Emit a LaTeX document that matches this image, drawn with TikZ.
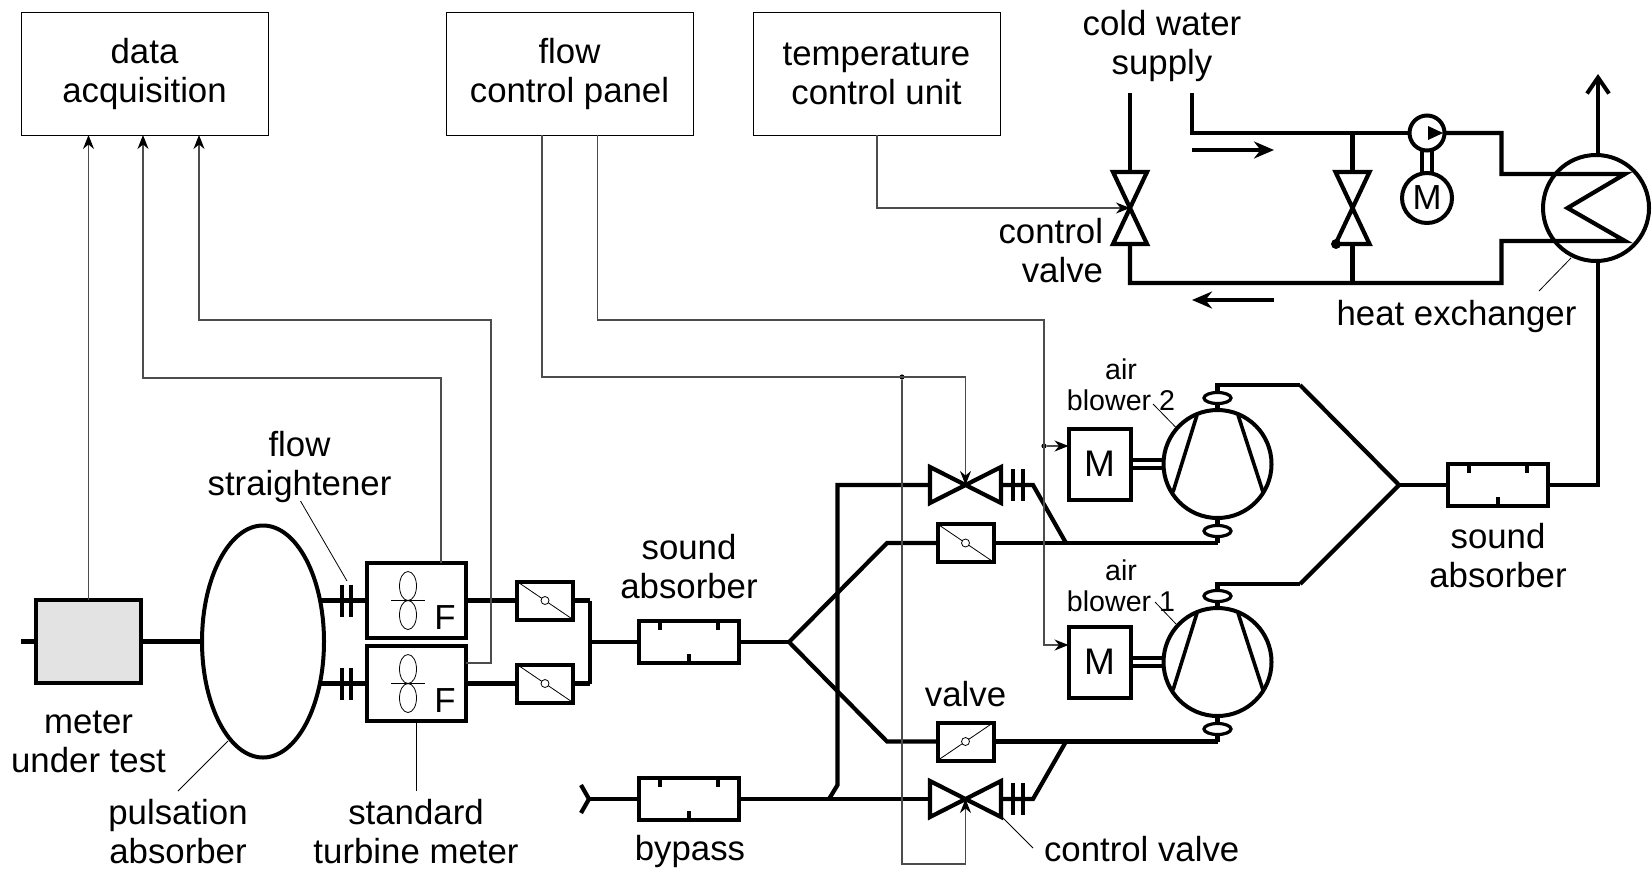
\documentclass[tikz,border=0pt]{standalone}
\usepackage{fontspec}
\setmainfont{Liberation Sans}
\usepackage{tikz}
\usetikzlibrary{
  shapes.geometric,
  arrows.meta,
  calc
}
\tikzset{
  every node/.style = {inner sep=0pt, outer sep=0pt},
  pipe/.style       = {line width=2.1pt},
  sigline/.style    = {line width=0.6pt, black!70},
  sigarrow/.style   = {sigline, -{Stealth[length=7pt, width=5.5pt, black]}},
  leader/.style     = {line width=0.4pt},
  flowarrow/.style  = {line width=2pt, -{Stealth[length=10pt, width=8.5pt]}},
  label/.style      = {align=center, font=\fontsize{17.4}{19.5}\selectfont},
  smalllabel/.style = {align=center, font=\fontsize{14.3}{15.5}\selectfont},
  panel/.style      = {draw, line width=0.5pt, minimum width=123.5pt, minimum height=61.5pt, align=center,
                       font=\fontsize{17.4}{19.5}\selectfont},
  metersq/.style    = {draw, line width=2pt, fill=gray!22, minimum width=52.5pt, minimum height=41.5pt},
  fanbox/.style     = {draw, line width=2.2pt, minimum width=49.5pt, minimum height=37.5pt},
  flapbox/.style    = {draw, line width=2pt, minimum width=28pt, minimum height=19pt},
  absorb/.style     = {draw, line width=2pt, minimum width=50pt, minimum height=21pt},
  motorbox/.style   = {draw, line width=2pt, minimum width=31pt, minimum height=35.5pt,
                       font=\fontsize{18.5}{19.5}\selectfont},
  bowtie/.style     = {minimum width=35.5pt, minimum height=18pt},
  bowtieup/.style   = {minimum width=17pt, minimum height=36pt},
  blower/.style     = {draw, circle, line width=2pt, minimum size=54pt},
  hub/.style        = {draw, ellipse, line width=1.6pt, fill=white, minimum width=13.5pt, minimum height=5.5pt},
  lobe/.style       = {draw, ellipse, line width=0.4pt, minimum width=8.5pt, minimum height=14.5pt},
  flapdot/.style    = {draw, circle, line width=0.4pt, fill=white, minimum size=4pt},
  sigdot/.style     = {circle, fill=black, minimum size=2.6pt},
}

\begin{document}
\begin{tikzpicture}[x=0.5pt, y=-0.5pt]
    \useasboundingbox (0,0) rectangle (1652,868);

    % --- TOP: PANELS ---
    \node[panel] (daq) at (144.5, 73.5) {data\\acquisition};
    \node[panel] (fcp) at (569.5, 73.5) {flow\\control panel};
    \node[panel] (tcu) at (876.5, 73.5) {temperature\\control unit};

    % --- LEFT: METER AND ABSORBER ---
    \node[metersq] (mut) at (88.5, 641.5) {};
    \node[draw, ellipse, line width=2pt, minimum width=61pt, minimum height=116pt] (pulse) at (263, 641.5) {};
    \coordinate (inlet) at (21, 641.5);
    \draw[pipe] (inlet) -- (mut.west);
    \draw[pipe] (mut.east) -- (pulse.west);

    % Turbine meters
    \foreach \n/\y in {up/600.5, lo/683.5} {
        \node[fanbox] (fan\n) at (416.5, \y) {};
        \node[lobe] (lobea\n) at (408, \y-14.5) {};
        \node[lobe] (lobeb\n) at (408, \y+14.5) {};
        \draw[leader] (391, \y) -- (425, \y);
        \node[label] (ftxt\n) at (445, \y+17) {F};
        \node[flapbox] (flap\n) at (545, \y) {};
        \draw[leader] (flap\n.north west) -- (flap\n.south east);
        \node[flapdot] (fdot\n) at (flap\n) {};
        \coordinate (pulse\n) at (321, \y);
        \coordinate (join\n) at (590, \y);
        \draw[pipe] (pulse\n) -- (fan\n.west);
        \draw[pipe] (fan\n.east) -- (flap\n.west);
        \draw[pipe] (flap\n.east) -- (join\n);
        \draw[line width=2pt] (342, \y-16) -- (342, \y+16);
        \draw[line width=2pt] (350.5, \y-16) -- (350.5, \y+16);
    }
    \draw[pipe] (joinup) -- (joinlo);

    % --- CENTER: SOUND ABSORBER, BYPASS, FORK ---
    \node[absorb] (abmain) at (689, 642) {};
    \node[absorb] (abby) at (689, 799) {};
    \node[absorb] (about) at (1498, 485) {};
    \foreach \a in {abmain, abby, about} {
        \draw[line width=1.6pt] ($(\a.north)+(-29,0)$) -- ++(0,9);
        \draw[line width=1.6pt] ($(\a.north)+(29,0)$) -- ++(0,9);
        \draw[line width=1.6pt] (\a.south) -- ++(0,-9);
    }
    \coordinate (joinmid) at (590, 642);
    \coordinate (fork) at (789, 642);
    \coordinate (forkup) at (887, 543);
    \coordinate (forklo) at (887, 741.5);
    \draw[pipe] (joinmid) -- (abmain.west);
    \draw[pipe] (abmain.east) -- (fork);
    \node[flapbox] (flapa) at (965.5, 543) {};
    \node[flapbox] (flapb) at (965.5, 741.5) {};
    \draw[leader] (flapa.north west) -- (flapa.south east);
    \draw[leader] (flapb.south west) -- (flapb.north east);
    \node[flapdot] (fdota) at (flapa) {};
    \node[flapdot] (fdotb) at (flapb) {};
    \draw[pipe] (flapa.west) -- (forkup) -- (fork) -- (forklo) -- (flapb.west);

    % Bypass branch
    \coordinate (ytail) at (589, 799);
    \draw[pipe] (581, 785) -- (ytail) -- (581, 813);
    \draw[pipe] (ytail) -- (abby.west);
    \node[bowtie] (cva) at (965.5, 485) {};
    \node[bowtie] (cvb) at (965.5, 799) {};
    \foreach \v in {cva, cvb}
        \draw[pipe] (\v.north west) -- (\v.south east) -- (\v.north east) -- (\v.south west) -- cycle;
    \coordinate (tee) at (829, 799);
    \coordinate (teeup) at (837.5, 785);
    \coordinate (teetop) at (837.5, 485);
    \draw[pipe] (abby.east) -- (cvb.west);
    \draw[pipe] (tee) -- (teeup) -- (teetop) -- (cva.west);
    \foreach \y in {485, 799} {
        \draw[line width=2pt] (1012.5, \y-16) -- (1012.5, \y+16);
        \draw[line width=2pt] (1022.5, \y-16) -- (1022.5, \y+16);
    }
    \coordinate (cvaout) at (1033, 485);
    \coordinate (cvbout) at (1033, 799);
    \coordinate (mrgup) at (1066, 543);
    \coordinate (mrglo) at (1066, 741.5);
    \draw[pipe] (cva.east) -- (cvaout) -- (mrgup);
    \draw[pipe] (cvb.east) -- (cvbout) -- (mrglo);

    % --- RIGHT: BLOWERS ---
    \foreach \n/\y/\yo/\ym in {a/464/385/543, b/662/584/741.5} {
        \node[motorbox] (mot\n) at (1099.5, \y) {M};
        \node[blower] (blw\n) at (1217.5, \y) {};
        \draw[pipe] (mot\n.east |- 0, \y-4) -- (blw\n.west |- 0, \y-4);
        \draw[pipe] (mot\n.east |- 0, \y+4) -- (blw\n.west |- 0, \y+4);
        \draw[line width=1.8pt] (1197, \y-49) -- (1173, \y+28);
        \draw[line width=1.8pt] (1238, \y-49) -- (1263, \y+28);
        \coordinate (outa\n) at (1217.5, \yo);
        \coordinate (outb\n) at (1300, \yo);
        \coordinate (ret\n) at (1217.5, \ym);
        \draw[pipe] (blw\n.north) -- (outa\n) -- (outb\n);
        \draw[pipe] (blw\n.south) -- (ret\n);
        \node[hub] (huba\n) at (1217.5, \y-66) {};
        \node[hub] (hubb\n) at (1217.5, \y+67) {};
    }
    \draw[pipe] (flapa.east) -- (reta);
    \draw[pipe] (flapb.east) -- (retb);
    \coordinate (outfork) at (1399, 485);
    \draw[pipe] (outba) -- (outfork) -- (outbb);
    \draw[pipe] (outfork) -- (about.west);

    % --- TOP RIGHT: WATER CIRCUIT ---
    \node[circle, draw, line width=2pt, minimum size=53pt] (hx) at (1596, 208) {};
    \coordinate (outbend) at (1598, 485);
    \coordinate (stack) at (1598, 74);
    \draw[pipe] (about.east) -- (outbend) -- (outbend |- hx.south);
    \draw[line width=2pt, -{Straight Barb[length=8pt, width=11pt]}] (stack |- hx.north) -- (stack);

    \node[bowtieup] (cvw) at (1130, 208) {};
    \node[bowtieup] (byv) at (1352.5, 208) {};
    \foreach \v in {cvw, byv}
        \draw[pipe] (\v.north west) -- (\v.north east) -- (\v.south west) -- (\v.south east) -- cycle;
    \node[circle, draw, line width=2pt, fill=white, minimum size=17.5pt] (pump) at (1427, 133) {};
    \node[circle, draw, line width=2pt, minimum size=25pt, font=\fontsize{17.4}{19.5}\selectfont] (motw) at (1427, 198) {M};
    \fill (1428, 126) -- (1443, 133) -- (1428, 140) -- cycle;
    \draw[line width=1.6pt] (pump.south -| 1422, 0) -- (motw.north -| 1422, 0);
    \draw[line width=1.6pt] (pump.south -| 1432, 0) -- (motw.north -| 1432, 0);
    \node[sigdot, minimum size=5pt] (byvdot) at (1336, 244) {};
    \node[sigdot] (byvmid) at (byv) {};

    \coordinate (sup) at (1192, 93);
    \coordinate (supbend) at (1192, 133);
    \coordinate (ret) at (1130, 93);
    \coordinate (retbend) at (1130, 283);
    \coordinate (hxta) at (1501.5, 133);
    \coordinate (hxtb) at (1501.5, 174);
    \coordinate (hxba) at (1501.5, 283);
    \coordinate (hxbb) at (1501.5, 241);
    \coordinate (coila) at (1625, 174);
    \coordinate (coilb) at (1567.5, 208);
    \coordinate (coilc) at (1625, 241);
    \draw[pipe] (sup) -- (supbend) -- (pump.west);
    \draw[pipe] (pump.east) -- (hxta) -- (hxtb) -- (coila) -- (coilb) -- (coilc) -- (hxbb) -- (hxba) -- (retbend) -- (cvw.south);
    \draw[pipe] (cvw.north) -- (ret);
    \draw[pipe] (byv.north) -- (byv.north |- supbend);
    \draw[pipe] (byv.south) -- (byv.south |- retbend);
    \draw[flowarrow] (1192, 150) -- (1274, 150);
    \draw[flowarrow] (1274, 300) -- (1192, 300);

    % --- SIGNAL LINES ---
    \coordinate (tapa) at (441, 378);
    \coordinate (tapb) at (143, 378);
    \coordinate (tapc) at (491, 663);
    \coordinate (tapd) at (491, 320);
    \coordinate (tape) at (199, 320);
    \draw[sigarrow] (mut.north) -- (mut.north |- daq.south);
    \draw[sigarrow] (fanup.north -| tapa) -- (tapa) -- (tapb) -- (tapb |- daq.south);
    \draw[sigarrow] (fanlo.east |- tapc) -- (tapc) -- (tapd) -- (tape) -- (tape |- daq.south);

    \coordinate (fcpa) at (542, 135);
    \coordinate (fcpb) at (542, 377);
    \coordinate (fcpc) at (965.5, 377);
    \node[sigdot] (fcpdot) at (902, 377) {};
    \draw[sigarrow] (fcpa) -- (fcpb) -- (fcpc) -- (cva.center);
    \coordinate (byloopa) at (902, 864);
    \coordinate (byloopb) at (965.5, 864);
    \draw[sigarrow] (fcpdot) -- (byloopa) -- (byloopb) -- (cvb.center);

    \coordinate (fcpd) at (597.5, 135);
    \coordinate (fcpe) at (597.5, 320);
    \coordinate (fcpf) at (1044, 320);
    \coordinate (fcpg) at (1044, 645);
    \node[sigdot] (motdot) at (1044, 446) {};
    \draw[sigarrow] (fcpd) -- (fcpe) -- (fcpf) -- (fcpg) -- (motb.west |- fcpg);
    \draw[sigarrow] (motdot) -- (mota.west |- motdot);

    \coordinate (tcua) at (877, 208);
    \draw[sigarrow] (tcu.south -| tcua) -- (tcua) -- (cvw.center);

    % --- LABELS AND LEADERS ---
    \node[label] (lblflow) at (299.5, 467) {flow\\straightener};
    \node[label] (lblmeter) at (88.5, 742) {meter\\under test};
    \node[label] (lblpulse) at (178, 832) {pulsation\\absorber};
    \node[label] (lblstd) at (416, 832) {standard\\turbine meter};
    \node[label] (lblsnd) at (689, 567) {sound\\absorber};
    \node[label] (lblby) at (690, 851) {bypass};
    \node[label] (lblval) at (965.5, 694) {valve};
    \node[label, anchor=west] (lblcv) at (1044, 849) {control valve};
    \node[smalllabel] (lblair) at (1121, 385) {air\\blower 2};
    \node[smalllabel] (lblairb) at (1121, 586) {air\\blower 1};
    \node[label] (lblsndb) at (1498, 556) {sound\\absorber};
    \node[label] (lblcold) at (1162, 46) {cold water\\supply};
    \node[label, align=right, anchor=east] (lblcw) at (1103, 251) {control\\valve};
    \node[label] (lblhx) at (1456.5, 316) {heat exchanger};

    \coordinate (ldfa) at (300.5, 501);
    \coordinate (ldfb) at (347, 581);
    \coordinate (ldpa) at (228, 741);
    \coordinate (ldpb) at (178, 791);
    \coordinate (ldsa) at (416, 722);
    \coordinate (ldsb) at (416, 791);
    \coordinate (ldca) at (1002, 817);
    \coordinate (ldcb) at (1033, 848);
    \coordinate (ldba) at (1153, 404);
    \coordinate (ldbb) at (1175.5, 427);
    \coordinate (ldbc) at (1155, 602);
    \coordinate (ldbd) at (1176, 624);
    \coordinate (ldha) at (1571, 258);
    \coordinate (ldhb) at (1539, 291);
    \foreach \a/\b in {ldfa/ldfb, ldpa/ldpb, ldsa/ldsb, ldca/ldcb, ldba/ldbb, ldbc/ldbd, ldha/ldhb}
        \draw[leader] (\a) -- (\b);

\end{tikzpicture}
\end{document}
